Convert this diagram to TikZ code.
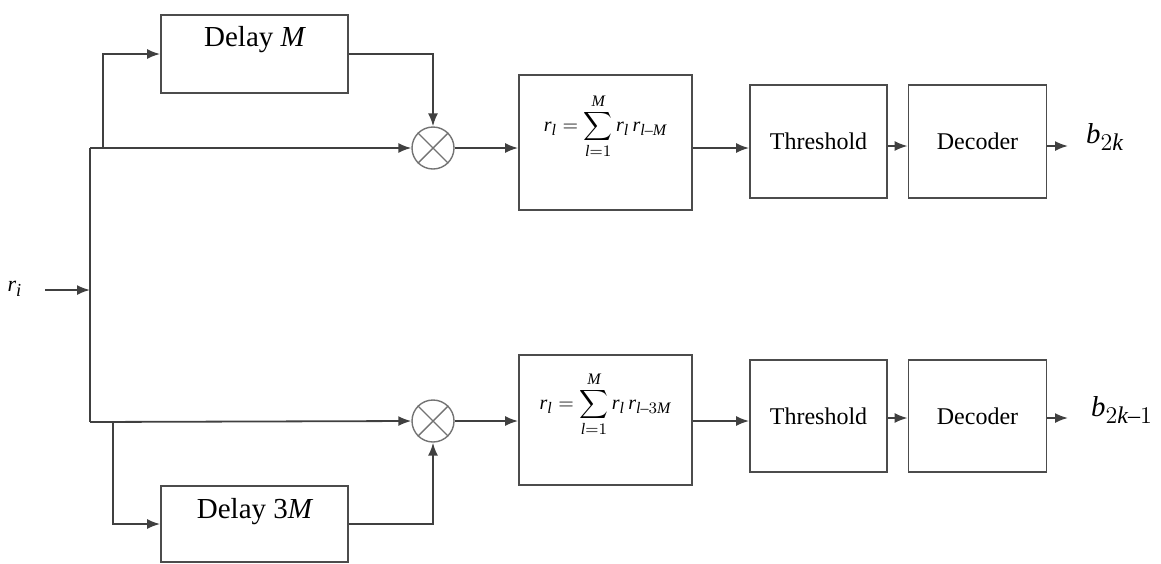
\documentclass[tikz,border=0pt]{standalone}
\usepackage{fontspec}
\setmainfont{Liberation Serif}
\usepackage[italic]{mathastext}
\usetikzlibrary{positioning, calc, arrows.meta}

\begin{document}
\begin{tikzpicture}[
  x=0.5pt, y=-0.5pt,
  font=\fontsize{12}{14}\selectfont,
  >={Latex[length=6.5pt,width=5pt]},
  wire/.style={draw=black!75, line width=0.9pt},
  blk/.style={draw=black!70, line width=0.9pt, inner sep=0pt},
  dlytext/.style={font=\fontsize{14.5}{16}\selectfont},
  mult/.style={circle, draw=black!55, line width=0.7pt,
               minimum size=21pt, inner sep=0pt},
]
\useasboundingbox (0,0) rectangle (1161,563);

% =====================================================================
% input r_i and the splitting trunk
% =====================================================================
\node[font=\fontsize{11}{13}\selectfont] (ri) at (15,289) {$r_i$};
\coordinate (rin)   at (45,290);
\coordinate (split) at (90,290);
\coordinate (ttop)  at (90,148);
\coordinate (tbot)  at (90,422);
\coordinate (brA)   at (103,148);
\coordinate (brB)   at (113,422);

\draw[wire, ->] (rin) -- (split);
\draw[wire] (ttop) -- (tbot);

% =====================================================================
% upper branch: delay M -> product -> correlator -> threshold -> decoder
% =====================================================================
\node[mult] (m1) at (433,148) {};
\draw[draw=black!55, line width=0.7pt] (m1.north east) -- (m1.south west);
\draw[draw=black!55, line width=0.7pt] (m1.north west) -- (m1.south east);

\node[blk, minimum width=93.5pt, minimum height=39pt,
      label={[dlytext, yshift=7pt]center:{Delay $M$}}] (d1) at (254.5,54) {};
\node[blk, minimum width=86.5pt, minimum height=67.5pt,
      label={[font=\fontsize{10}{12}\selectfont, yshift=8pt]center:%
        {$\displaystyle r_l=\sum_{l=1}^{M} r_l\, r_{l-M}$}}] (s1) at (605.5,142.5) {};
\node[blk, minimum width=68.5pt, minimum height=56.5pt] (th1) at (818.5,141.5) {Threshold};
\node[blk, minimum width=69pt, minimum height=56.5pt] (dc1) at (977.5,141.5) {Decoder};
\coordinate (out1) at (1068,146);
\node[font=\Large] (b1) at (1105,137) {$b_{2k}$};

\draw[wire, ->] (brA) |- (d1.west);
\draw[wire, ->] (d1.east) -| (m1.north);
\draw[wire, ->] (ttop) -- (m1.west);
\draw[wire, ->] (m1.east) -- (s1.west |- m1.east);
\draw[wire, ->] (s1.east |- m1.east) -- (th1.west |- m1.east);
\draw[wire, ->] (th1.east |- out1) -- (dc1.west |- out1);
\draw[wire, ->] (dc1.east |- out1) -- (out1);

% =====================================================================
% lower branch: delay 3M
% =====================================================================
\node[mult] (m2) at (433,421) {};
\draw[draw=black!55, line width=0.7pt] (m2.north east) -- (m2.south west);
\draw[draw=black!55, line width=0.7pt] (m2.north west) -- (m2.south east);

\node[blk, minimum width=93.5pt, minimum height=38pt,
      label={[dlytext, yshift=6pt]center:{Delay 3$M$}}] (d2) at (254.5,524) {};
\node[blk, minimum width=86.5pt, minimum height=65pt,
      label={[font=\fontsize{10}{12}\selectfont, yshift=8pt]center:%
        {$\displaystyle r_l=\sum_{l=1}^{M} r_l\, r_{l-3M}$}}] (s2) at (605.5,420) {};
\node[blk, minimum width=68.5pt, minimum height=56pt] (th2) at (818.5,416) {Threshold};
\node[blk, minimum width=69pt, minimum height=56pt] (dc2) at (977.5,416) {Decoder};
\coordinate (out2) at (1068,418);
\node[font=\Large] (b2) at (1122,410) {$b_{2k-1}$};

\draw[wire, ->] (brB) |- (d2.west);
\draw[wire, ->] (d2.east) -| (m2.south);
\draw[wire, ->] (tbot) -- (m2.west);
\draw[wire, ->] (m2.east) -- (s2.west |- m2.east);
\draw[wire, ->] (s2.east |- m2.east) -- (th2.west |- m2.east);
\draw[wire, ->] (th2.east |- out2) -- (dc2.west |- out2);
\draw[wire, ->] (dc2.east |- out2) -- (out2);

\end{tikzpicture}
\end{document}
